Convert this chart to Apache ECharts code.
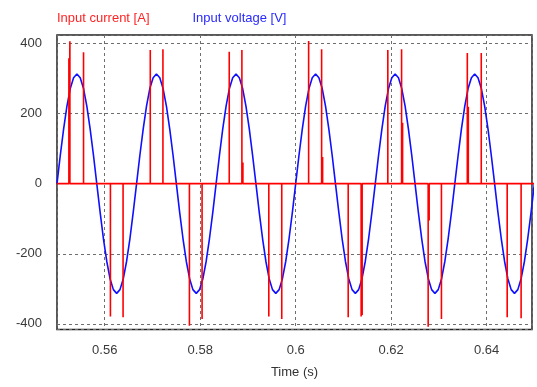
<!DOCTYPE html>
<html>
<head>
<meta charset="utf-8">
<script src="https://cdn.jsdelivr.net/npm/echarts@6/dist/echarts.min.js"></script>
<style>
html,body{margin:0;padding:0;background:#fff;}
#c{width:537px;height:387px;}
</style>
</head>
<body>
<div id="c"></div>
<script>
// ---- data ----
const seriesNames = ['Input current [A]', 'Input voltage [V]'];
const xTickValues = [0.56, 0.58, 0.60, 0.62, 0.64];
const yTickValues = [-400, -200, 0, 200, 400];

// voltage samples (time in s, voltage in V)
const voltageTimes = [
  0.55000,0.55069,0.55139,0.55208,0.55278,0.55347,0.55417,0.55486,0.55556,0.55625,0.55694,0.55764,
  0.55833,0.55903,0.55972,0.56042,0.56111,0.56181,0.56250,0.56319,0.56389,0.56458,0.56528,0.56597,
  0.56667,0.56736,0.56806,0.56875,0.56944,0.57014,0.57083,0.57153,0.57222,0.57292,0.57361,0.57431,
  0.57500,0.57569,0.57639,0.57708,0.57778,0.57847,0.57917,0.57986,0.58056,0.58125,0.58194,0.58264,
  0.58333,0.58403,0.58472,0.58542,0.58611,0.58681,0.58750,0.58819,0.58889,0.58958,0.59028,0.59097,
  0.59167,0.59236,0.59306,0.59375,0.59444,0.59514,0.59583,0.59653,0.59722,0.59792,0.59861,0.59931,
  0.60000,0.60069,0.60139,0.60208,0.60278,0.60347,0.60417,0.60486,0.60556,0.60625,0.60694,0.60764,
  0.60833,0.60903,0.60972,0.61042,0.61111,0.61181,0.61250,0.61319,0.61389,0.61458,0.61528,0.61597,
  0.61667,0.61736,0.61806,0.61875,0.61944,0.62014,0.62083,0.62153,0.62222,0.62292,0.62361,0.62431,
  0.62500,0.62569,0.62639,0.62708,0.62778,0.62847,0.62917,0.62986,0.63056,0.63125,0.63194,0.63264,
  0.63333,0.63403,0.63472,0.63542,0.63611,0.63681,0.63750,0.63819,0.63889,0.63958,0.64028,0.64097,
  0.64167,0.64236,0.64306,0.64375,0.64444,0.64514,0.64583,0.64653,0.64722,0.64792,0.64861,0.64931,
  0.65000
];
const voltageValues = [
  0,81,156.5,221.3,271.1,302.3,313,302.3,271.1,221.3,156.5,81,0,-81,-156.5,-221.3,-271.1,-302.3,-313,-302.3,-271.1,-221.3,-156.5,-81,
  0,81,156.5,221.3,271.1,302.3,313,302.3,271.1,221.3,156.5,81,0,-81,-156.5,-221.3,-271.1,-302.3,-313,-302.3,-271.1,-221.3,-156.5,-81,
  0,81,156.5,221.3,271.1,302.3,313,302.3,271.1,221.3,156.5,81,0,-81,-156.5,-221.3,-271.1,-302.3,-313,-302.3,-271.1,-221.3,-156.5,-81,
  0,81,156.5,221.3,271.1,302.3,313,302.3,271.1,221.3,156.5,81,0,-81,-156.5,-221.3,-271.1,-302.3,-313,-302.3,-271.1,-221.3,-156.5,-81,
  0,81,156.5,221.3,271.1,302.3,313,302.3,271.1,221.3,156.5,81,0,-81,-156.5,-221.3,-271.1,-302.3,-313,-302.3,-271.1,-221.3,-156.5,-81,
  0,81,156.5,221.3,271.1,302.3,313,302.3,271.1,221.3,156.5,81,0,-81,-156.5,-221.3,-271.1,-302.3,-313,-302.3,-271.1,-221.3,-156.5,-81,
  0
];

// current pulses (time in s, current in A); zero elsewhere
const spikeTimes = [
  0.55249,0.55270,0.55556,
  0.56119,0.56384,
  0.56954,0.57219,
  0.57774,0.58039,
  0.58608,0.58873,0.58894,
  0.59437,0.59708,
  0.60271,0.60543,0.60564,
  0.61100,0.61371,0.61392,
  0.61930,0.62218,0.62239,
  0.62775,0.62796,0.63053,
  0.63595,0.63616,0.63887,
  0.64430,0.64722
];
const spikeCurrents = [
  358,406,375,
  -379,-381,
  381,383,
  -405,-386,
  376,381,60,
  -379,-386,
  407,383,76,
  -381,-379,-375,
  381,383,174,
  -408,-105,-386,
  373,219,373,
  -381,-384
];

// ---- build series data ----
const voltageData = voltageTimes.map((t, i) => [t, voltageValues[i]]);
const currentData = [[voltageTimes[0], 0]];
spikeTimes.forEach((t, i) => {
  currentData.push([t, 0], [t, spikeCurrents[i]], [t, 0]);
});
currentData.push([voltageTimes[voltageTimes.length - 1], 0]);

const isTick = (v, list) => list.some(x => Math.abs(x - v) < 1e-6);
const FONT = '"Liberation Sans", Arial, sans-serif';

const chart = echarts.init(document.getElementById('c'), null, {renderer: 'canvas'});
chart.setOption({
  animation: false,
  backgroundColor: '#ffffff',
  textStyle: {fontFamily: FONT},
  legend: {
    left: 47, top: 7,
    icon: 'none', itemWidth: 0, itemHeight: 0, itemGap: 38,
    selectedMode: false,
    textStyle: {fontSize: 13, fontFamily: FONT},
    data: [
      {name: seriesNames[0], textStyle: {color: '#ff2424'}},
      {name: seriesNames[1], textStyle: {color: '#2a2aff'}}
    ]
  },
  grid: {
    left: 57, top: 35, right: 5, bottom: 57.5,
    show: true, borderColor: '#222', borderWidth: 1.5, backgroundColor: 'transparent'
  },
  xAxis: {
    type: 'value',
    min: 0.55, max: 0.6495,
    name: 'Time (s)', nameLocation: 'middle', nameGap: 36,
    nameTextStyle: {fontSize: 13, color: '#333', fontFamily: FONT},
    axisLine: {show: false},
    axisTick: {show: false},
    axisLabel: {
      margin: 14, fontSize: 13, color: '#3a3a3a', fontFamily: FONT,
      showMinLabel: true, showMaxLabel: true,
      formatter: v => isTick(v, xTickValues) ? String(+v.toFixed(2)) : ''
    },
    splitLine: {show: true, lineStyle: {color: '#6e6e6e', type: [3, 3], width: 1}}
  },
  yAxis: {
    type: 'value',
    min: -416, max: 424,
    axisLine: {show: false},
    axisTick: {show: false},
    axisLabel: {
      margin: 15, fontSize: 13, color: '#3a3a3a', fontFamily: FONT,
      formatter: v => isTick(v, yTickValues) ? String(Math.round(v)) : ''
    },
    splitLine: {show: true, lineStyle: {color: '#6e6e6e', type: [3, 3], width: 1}}
  },
  series: [
    {
      name: seriesNames[0], type: 'line', data: currentData,
      symbol: 'none', z: 3, clip: true,
      itemStyle: {color: '#ff0000'},
      lineStyle: {color: '#ff0000', width: 1.6}
    },
    {
      name: seriesNames[1], type: 'line', data: voltageData,
      symbol: 'none', z: 2, clip: true,
      itemStyle: {color: '#0000ff'},
      lineStyle: {color: '#1010ff', width: 1.6}
    }
  ]
});
</script>
</body>
</html>
